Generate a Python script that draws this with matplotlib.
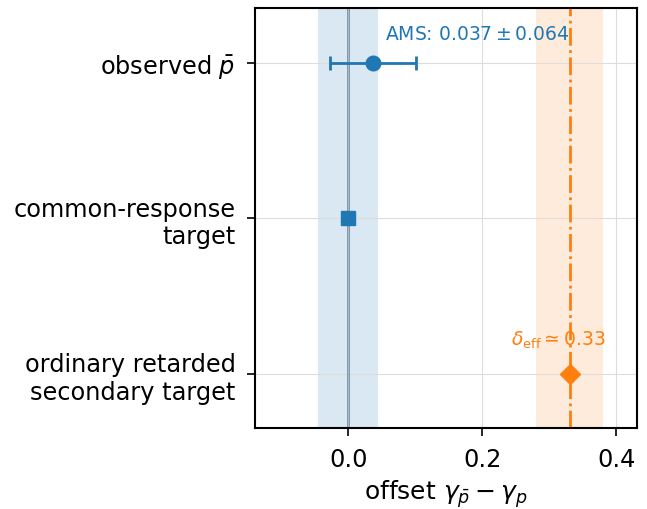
import matplotlib
matplotlib.use("Agg")
import matplotlib.pyplot as plt

# rows, bottom to top
labels = ['ordinary retarded\nsecondary target', 'common-response\ntarget', r'observed $\bar{p}$']
ypos = [0, 1, 2]

ams_mean = 0.037
ams_err = 0.064
common_val = 0.0
delta_eff = 0.33
common_band = (-0.045, 0.045)
delta_band = (0.28, 0.38)

fs = 17.3

fig = plt.figure(figsize=(6.47, 5.1), dpi=100)
ax = fig.add_axes([0.394, 0.159, 0.591, 0.823])

ax.axvspan(common_band[0], common_band[1], color='tab:blue', alpha=0.17, lw=0, zorder=0)
ax.axvspan(delta_band[0], delta_band[1], color='tab:orange', alpha=0.15, lw=0, zorder=0)
ax.axvline(0, color='#6f7f8c', lw=1.8, zorder=1)
ax.axvline(0, color='#a9c8e2', lw=0.6, zorder=1)
ax.axvline(delta_eff, color='tab:orange', lw=2, ls='-.', zorder=2)

ax.errorbar([ams_mean], [ypos[2]], xerr=[ams_err], fmt='o', color='tab:blue',
            ms=10.5, lw=2, capsize=5, capthick=2, zorder=3)
ax.plot([common_val], [ypos[1]], 's', color='tab:blue', ms=9.5, zorder=3)
ax.plot([delta_eff], [ypos[0]], 'D', color='tab:orange', ms=10, zorder=3)

ax.text(0.055, 2.19, r'AMS: $0.037 \pm 0.064$', color='tab:blue', fontsize=13.5,
        ha='left', va='center')
ax.text(0.384, 0.22, r'$\delta_{\rm eff} \simeq 0.33$', color='tab:orange', fontsize=13.5,
        ha='right', va='center')

ax.set_xlim(-0.139, 0.431)
ax.set_ylim(-0.35, 2.35)
ax.set_xticks([0.0, 0.2, 0.4])
ax.set_xticklabels(['0.0', '0.2', '0.4'])
ax.set_yticks(ypos)
ax.set_yticklabels(labels, ha='right')
ax.tick_params(labelsize=fs, length=6, width=1.2)
ax.tick_params(axis='x', pad=8)
ax.tick_params(axis='y', pad=8)
ax.grid(True, color='#dddddd', lw=0.8, zorder=0)
ax.set_axisbelow(True)
for s in ax.spines.values():
    s.set_linewidth(1.5)
ax.set_xlabel(r'offset $\gamma_{\bar{p}} - \gamma_{p}$', fontsize=18, labelpad=4)

fig.savefig('out.png', dpi=100)
